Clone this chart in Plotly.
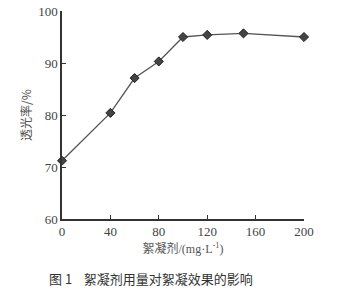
import plotly.graph_objects as go

dose = [0, 40, 60, 80, 100, 120, 150, 200]
transmittance = [71.2, 80.4, 87.1, 90.3, 95.0, 95.4, 95.7, 95.0]
x_ticks = [0, 40, 80, 120, 160, 200]
y_ticks = [60, 70, 80, 90, 100]

fig = go.Figure()
fig.add_trace(go.Scatter(
    x=dose, y=transmittance, mode="lines+markers",
    line=dict(color="#555555", width=1.3),
    marker=dict(symbol="diamond", size=7, color="#444444",
                line=dict(color="#222222", width=1)),
    showlegend=False, cliponaxis=False,
))

serif = "Liberation Serif, Times New Roman, serif"
cjk = "Noto Sans CJK SC"
fig.update_layout(
    width=339, height=299,
    margin=dict(l=62, r=35, t=11, b=80, autoexpand=False),
    paper_bgcolor="white", plot_bgcolor="white",
    font=dict(family=serif, size=13, color="#444444"),
    xaxis=dict(
        range=[0, 200], tickvals=x_ticks, ticks="inside", ticklen=4,
        tickcolor="#333333", showline=True, linecolor="#333333", linewidth=1.5,
        showgrid=False, zeroline=False, mirror=False, automargin=False,
        title=dict(text="絮凝剂<span style=\"font-family:Liberation Serif\">/(mg·L<sup>-1</sup>)</span>",
                   standoff=6,
                   font=dict(family=cjk, size=12, color="#555555")),
    ),
    yaxis=dict(
        range=[60, 100], tickvals=y_ticks, ticks="inside", ticklen=4,
        tickcolor="#333333", showline=True, linecolor="#333333", linewidth=1.5,
        showgrid=False, zeroline=False, automargin=False,
        title=dict(text="透光率/%", standoff=4,
                   font=dict(family=cjk, size=12, color="#555555")),
    ),
)
fig.add_annotation(
    text="图 1    絮凝剂用量对絮凝效果的影响", xref="paper", yref="paper",
    x=-0.06, y=-0.285, xanchor="left", yanchor="middle", showarrow=False,
    font=dict(family=cjk, size=13, color="#333333"),
)
fig.write_html("out.html")
